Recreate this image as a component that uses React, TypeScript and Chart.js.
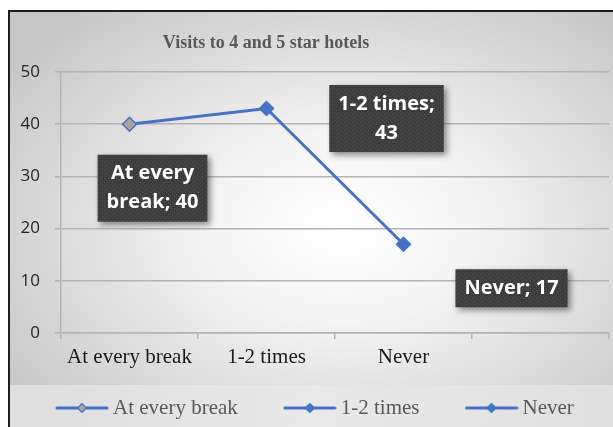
import React, { useEffect, useRef } from 'react';
import { Chart, registerables } from 'chart.js';

Chart.register(...registerables);

// ---- data ----
const TITLE = 'Visits to 4 and 5 star hotels';
const categories = ['At every break', '1-2 times', 'Never', ''];
const values: (number | null)[] = [40, 43, 17, null];
const legendLabels = ['At every break', '1-2 times', 'Never'];
const pointFills = ['#a5a5a5', '#4472c4', '#4472c4'];
const Y_MIN = 0;
const Y_MAX = 50;
const Y_STEP = 10;

// ---- layout / style (pixels) ----
const labelOffsets = [
  [23, 64],
  [120, 10],
  [108, 44],
];
const TITLE_POS = { x: 256, y: 31 };
const BLUE = '#4472c4';
const GRID = '#b3b3b3';
const CANVAS_W = 660;
const CANVAS_H = 415;

function makeLegendIcon(fill: string): HTMLCanvasElement {
  const c = document.createElement('canvas');
  c.width = 54;
  c.height = 14;
  const g = c.getContext('2d')!;
  g.strokeStyle = BLUE;
  g.lineWidth = 3;
  g.lineCap = 'round';
  g.beginPath();
  g.moveTo(2, 7);
  g.lineTo(52, 7);
  g.stroke();
  g.beginPath();
  g.moveTo(27 - 4.5, 7);
  g.lineTo(27, 7 - 4.5);
  g.lineTo(27 + 4.5, 7);
  g.lineTo(27, 7 + 4.5);
  g.closePath();
  g.fillStyle = fill;
  g.fill();
  g.lineWidth = 1.2;
  g.strokeStyle = BLUE;
  g.stroke();
  return c;
}

function wrapText(ctx: CanvasRenderingContext2D, text: string, maxW: number): string[] {
  const words = text.split(' ');
  const lines: string[] = [];
  let cur = '';
  for (const w of words) {
    const test = cur ? cur + ' ' + w : w;
    if (cur && ctx.measureText(test).width > maxW) {
      lines.push(cur);
      cur = w;
    } else {
      cur = test;
    }
  }
  if (cur) lines.push(cur);
  return lines;
}

export default function App() {
  const ref = useRef<HTMLCanvasElement>(null);

  useEffect(() => {
    if (!ref.current) return;

    const pc = document.createElement('canvas');
    pc.width = 4;
    pc.height = 4;
    const pg = pc.getContext('2d')!;
    pg.fillStyle = '#3c3c3c';
    pg.fillRect(0, 0, 4, 4);
    pg.fillStyle = '#525252';
    pg.fillRect(0, 0, 1, 1);
    pg.fillRect(2, 2, 1, 1);

    const icons = pointFills.map((f) => makeLegendIcon(f));

    const titlePlugin = {
      id: 'customTitle',
      afterDraw(chart: any) {
        const ctx = chart.ctx;
        ctx.save();
        ctx.font = 'bold 18px "Liberation Serif"';
        ctx.fillStyle = '#595959';
        ctx.textAlign = 'center';
        ctx.textBaseline = 'middle';
        ctx.fillText(TITLE, TITLE_POS.x, TITLE_POS.y);
        ctx.restore();
      },
    };

    const labelPlugin = {
      id: 'boxLabels',
      afterDatasetsDraw(chart: any) {
        const ctx: CanvasRenderingContext2D = chart.ctx;
        const meta = chart.getDatasetMeta(0);
        const pattern = ctx.createPattern(pc, 'repeat');
        ctx.save();
        ctx.font = 'bold 20px "Open Sans"';
        meta.data.forEach((pt: any, i: number) => {
          const v = values[i];
          if (v == null || !labelOffsets[i]) return;
          const text = `${categories[i]}; ${v}`;
          const lines = wrapText(ctx, text, 102);
          const tw = Math.max(...lines.map((l) => ctx.measureText(l).width));
          const lh = 29;
          const w = tw + 18;
          const h = lines.length * lh + 9;
          const cx = pt.x + labelOffsets[i][0];
          const cy = pt.y + labelOffsets[i][1];
          ctx.save();
          ctx.shadowColor = 'rgba(0,0,0,0.45)';
          ctx.shadowBlur = 6;
          ctx.shadowOffsetX = 3;
          ctx.shadowOffsetY = 3;
          ctx.fillStyle = pattern || '#3c3c3c';
          ctx.fillRect(cx - w / 2, cy - h / 2, w, h);
          ctx.restore();
          ctx.fillStyle = '#ffffff';
          ctx.textAlign = 'center';
          ctx.textBaseline = 'middle';
          lines.forEach((l, k) => {
            ctx.fillText(l, cx, cy - h / 2 + 4.5 + lh / 2 + k * lh);
          });
        });
        ctx.restore();
      },
    };

    const chart = new Chart(ref.current, {
      type: 'line',
      data: {
        labels: categories,
        datasets: [
          {
            label: 'Visits',
            data: values,
            borderColor: BLUE,
            borderWidth: 3,
            pointStyle: 'rectRot',
            pointRadius: 7,
            pointHoverRadius: 7,
            pointBackgroundColor: pointFills,
            pointBorderColor: BLUE,
            pointBorderWidth: 1.5,
            tension: 0,
            fill: false,
            yAxisID: 'y',
          },
        ],
      },
      options: {
        animation: false,
        responsive: false,
        events: [],
        layout: { padding: { left: 0, right: 0, top: 60, bottom: -1.5 } },
        plugins: {
          title: { display: false },
          tooltip: { enabled: false },
          legend: {
            display: true,
            position: 'bottom',
            align: 'start',
            labels: {
              usePointStyle: true,
              pointStyleWidth: 41,
              padding: 51.5,
              color: '#595959',
              font: { family: '"Liberation Serif"', size: 21 },
              generateLabels: () =>
                legendLabels.map((t, i) => ({
                  text: t,
                  pointStyle: icons[i] as any,
                  fillStyle: pointFills[i],
                  strokeStyle: BLUE,
                  lineWidth: 0,
                  hidden: false,
                  index: i,
                  datasetIndex: 0,
                  fontColor: '#595959',
                })),
            },
          },
        },
        scales: {
          x: {
            type: 'category',
            offset: true,
            afterFit: (axis: any) => {
              axis.height = 13;
            },
            grid: {
              display: true,
              drawOnChartArea: false,
              drawTicks: true,
              tickLength: 6,
              offset: true,
              color: GRID,
              lineWidth: 1.5,
            },
            border: { display: true, color: GRID, width: 1.5 },
            ticks: {
              mirror: true,
              color: '#1a1a1a',
              font: { family: '"Liberation Serif"', size: 21 },
              padding: -36.6,
              maxRotation: 0,
              autoSkip: false,
            },
          },
          y: {
            min: Y_MIN,
            max: Y_MAX,
            afterFit: (axis: any) => {
              axis.width = 51;
            },
            grid: {
              color: GRID,
              lineWidth: 1.5,
              tickLength: 6,
              drawTicks: true,
            },
            border: { display: true, color: GRID, width: 1.5 },
            ticks: {
              stepSize: Y_STEP,
              color: '#262626',
              font: { family: '"Open Sans"', size: 17 },
              padding: 15,
            },
          },
          spacer: {
            type: 'linear',
            position: 'right',
            display: true,
            afterFit: (axis: any) => {
              axis.width = 61;
            },
            grid: { display: false, drawOnChartArea: false },
            border: { display: false },
            ticks: { display: false },
          },
        },
      },
      plugins: [titlePlugin, labelPlugin],
    });

    return () => chart.destroy();
  }, []);

  return (
    <div
      style={{
        position: 'fixed',
        left: 8,
        top: 10,
        width: 605,
        height: 417,
        boxSizing: 'border-box',
        borderLeft: '2px solid #1e1e1e',
        borderTop: '2px solid #1e1e1e',
        background:
          'radial-gradient(ellipse 68% 68% at 55% 52%, #ffffff 0%, #f4f4f4 33%, #c6c6c6 100%)',
        overflow: 'hidden',
      }}
    >
      <div
        style={{
          position: 'absolute',
          left: 0,
          right: 0,
          top: 373,
          bottom: 0,
          background: 'linear-gradient(90deg, #dedede 0%, #e9e9e9 50%, #e0e0e0 100%)',
        }}
      />
      <canvas
        ref={ref}
        width={CANVAS_W}
        height={CANVAS_H}
        style={{ position: 'absolute', left: 0, top: 0, width: CANVAS_W, height: CANVAS_H }}
      />
    </div>
  );
}
